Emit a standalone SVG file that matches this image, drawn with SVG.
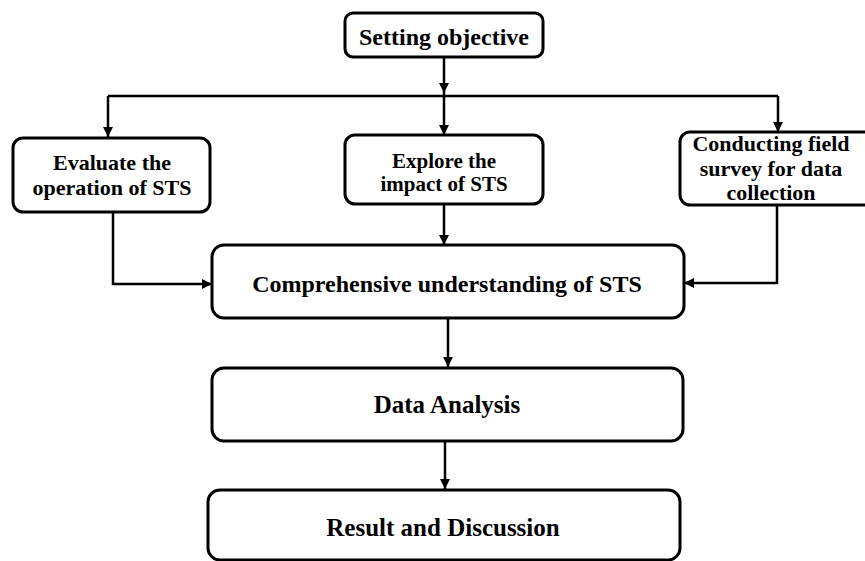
<svg xmlns="http://www.w3.org/2000/svg" width="865" height="561" viewBox="0 0 865 561">
<defs>
<marker id="ah" markerUnits="userSpaceOnUse" markerWidth="12" markerHeight="10" refX="10" refY="5" orient="auto">
<path d="M0,0 L10,5 L0,10 Z" fill="#000"/>
</marker>
<style>
.box{fill:#fff;stroke:#000;stroke-width:3}
.t{font-family:"Liberation Serif","Times New Roman",serif;font-weight:bold;fill:#000;text-anchor:middle}
.s{font-size:21px}
.m{font-size:24px}
.l{font-size:25px}
.c{fill:none;stroke:#000;stroke-width:2.5}
</style>
</defs>
<rect width="865" height="561" fill="#fff"/>
<g id="connectors">
<path class="c" d="M444,57 V93" marker-end="url(#ah)"/>
<path class="c" d="M108,96 H778"/>
<path class="c" d="M444,93 V135" marker-end="url(#ah)"/>
<path class="c" d="M108,96 V137" marker-end="url(#ah)"/>
<path class="c" d="M778,96 V132" marker-end="url(#ah)"/>
<path class="c" d="M113,212 V284 H212" marker-end="url(#ah)"/>
<path class="c" d="M777,205 V283 H684" marker-end="url(#ah)"/>
<path class="c" d="M444,204 V245" marker-end="url(#ah)"/>
<path class="c" d="M448,318 V367" marker-end="url(#ah)"/>
<path class="c" d="M445,442 V489" marker-end="url(#ah)"/>
</g>
<g id="setting">
<rect class="box" x="345" y="13" width="198" height="44" rx="8"/>
<text class="t m" x="444" y="45">Setting objective</text>
</g>
<g id="evaluate">
<rect class="box" x="13" y="138" width="197" height="74" rx="10"/>
<text class="t" font-size="22" x="112" y="170">Evaluate the</text>
<text class="t" font-size="22" x="112" y="195">operation of STS</text>
</g>
<g id="explore">
<rect class="box" x="345" y="135" width="198" height="69" rx="10"/>
<text class="t s" x="444" y="168">Explore the</text>
<text class="t s" x="444" y="191">impact of STS</text>
</g>
<g id="conducting">
<rect class="box" x="680" y="132" width="195" height="73" rx="10"/>
<text class="t" font-size="22" x="771" y="151">Conducting field</text>
<text class="t" font-size="22" x="771" y="176">survey for data</text>
<text class="t" font-size="22" x="771" y="200">collection</text>
</g>
<g id="comprehensive">
<rect class="box" x="212" y="245" width="472" height="73" rx="12"/>
<text class="t m" x="447" y="292">Comprehensive understanding of STS</text>
</g>
<g id="data">
<rect class="box" x="212" y="368" width="471" height="73" rx="12"/>
<text class="t l" x="447" y="413">Data Analysis</text>
</g>
<g id="result">
<rect class="box" x="208" y="490" width="472" height="70" rx="12"/>
<text class="t l" x="443" y="536">Result and Discussion</text>
</g>
</svg>
